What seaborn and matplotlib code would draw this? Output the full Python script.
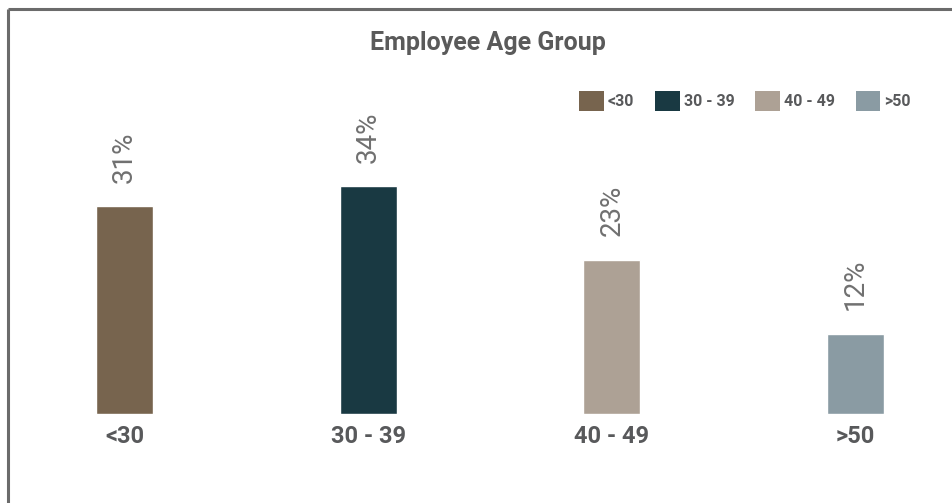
import matplotlib
matplotlib.use("Agg")
import matplotlib.pyplot as plt
import seaborn as sns
import pandas as pd
from matplotlib.patches import Patch
from matplotlib.lines import Line2D

categories = ["<30", "30 - 39", "40 - 49", ">50"]
values = [31, 34, 23, 12]
colors = ["#77644E", "#193942", "#ADA195", "#8A9BA3"]
title = "Employee Age Group"

sns.set_theme(style="white")
plt.rcParams["font.family"] = ["Roboto", "DejaVu Sans"]

TXT = "#58595B"
W, H = 953, 503
fig = plt.figure(figsize=(W / 100, H / 100), dpi=100)
fig.patch.set_facecolor("white")

bottom_px = 414
ax = fig.add_axes([0, (H - bottom_px) / H, 1, bottom_px / H])
df = pd.DataFrame({"group": categories, "pct": values})
sns.barplot(data=df, x="group", y="pct", hue="group", palette=colors,
            legend=False, width=0.234, ax=ax, saturation=1)

spacing = 243.7
x0 = 124.5
ax.set_xlim(-x0 / spacing, (W - x0) / spacing)
ax.set_ylim(0, 61.8)
ax.set_xlabel("")
ax.set_ylabel("")
ax.set_yticks([])
for s in ax.spines.values():
    s.set_visible(False)
ax.patch.set_alpha(0)
ax.tick_params(axis="x", length=0, pad=8, labelsize=17, labelcolor=TXT)
for lab in ax.get_xticklabels():
    lab.set_fontweight("bold")

for cont in ax.containers:
    ax.bar_label(cont, labels=[f"{v:g}%" for v in cont.datavalues],
                 rotation=90, padding=17, fontsize=20, color="#707070",
                 fontweight="normal")

fig.text(488 / W, 1 - 43 / H, title, ha="center", va="center",
         fontsize=18, fontweight="bold", color="#5A5A5A")

handles = [Patch(facecolor=c, edgecolor="none", label=l)
           for c, l in zip(colors, categories)]
leg = fig.legend(handles=handles, loc="center left",
                 bbox_to_anchor=(579 / W, 1 - 101 / H), ncol=4, frameon=False,
                 handlelength=1.55, handleheight=1.55, handletextpad=0.25,
                 columnspacing=1.3, borderpad=0, borderaxespad=0,
                 prop={"weight": "bold", "size": 11.5})
for t in leg.get_texts():
    t.set_color(TXT)

fig.add_artist(Line2D([8.5 / W, 1], [1 - 9 / H, 1 - 9 / H], color="#6B6B6B",
                      lw=2.2, transform=fig.transFigure, solid_capstyle="butt"))
fig.add_artist(Line2D([8.5 / W, 8.5 / W], [0, 1 - 9 / H], color="#6B6B6B",
                      lw=2.2, transform=fig.transFigure, solid_capstyle="butt"))

fig.savefig("out.png", dpi=100, facecolor="white")
